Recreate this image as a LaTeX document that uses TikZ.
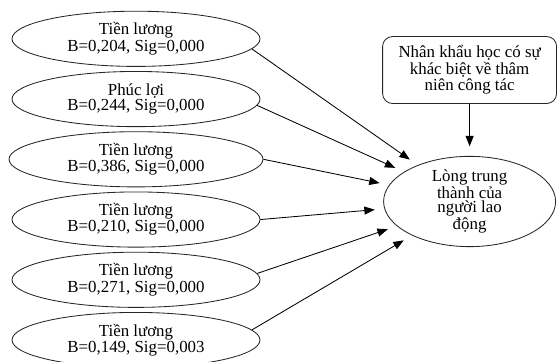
\documentclass[tikz,border=0pt]{standalone}
\usepackage{fontspec}
\setmainfont{Liberation Serif}
\usepackage{tikz}
\usetikzlibrary{shapes.geometric, arrows.meta, positioning}

\begin{document}
\begin{tikzpicture}[
    factor/.style={
      ellipse, draw=black!85, line width=0.6pt,
      minimum width=6.2cm, minimum height=1.38cm, inner sep=0pt,
      font=\fontsize{12}{9.5}\selectfont, align=center
    },
    outcome/.style={
      ellipse, draw=black!85, line width=0.6pt,
      minimum width=4.3cm, minimum height=2.075cm, inner sep=0pt,
      font=\fontsize{12}{10.6}\selectfont, align=center
    },
    control/.style={
      rectangle, draw=black!85, line width=0.6pt, rounded corners=2.5mm,
      minimum width=4.35cm, minimum height=1.675cm, inner sep=2pt,
      font=\fontsize{12}{11.6}\selectfont, align=center
    },
    rel/.style={-{Triangle[length=2.6mm, width=2mm]}, line width=0.6pt,
      shorten >=2.4mm},
  ]

  \useasboundingbox (0,0) rectangle (13.925,-9.025);

  \node[factor] (luong1) at (3.4,-0.97) {Tiền lương\\B=0,204, Sig=0,000};
  \node[factor, below=0.105cm of luong1] (phucloi) {Phúc lợi\\B=0,244, Sig=0,000};
  \node[factor, below=0.105cm of phucloi, minimum width=6.35cm] (luong3) {Tiền lương\\B=0,386, Sig=0,000};
  \node[factor, below=0.105cm of luong3] (luong4) {Tiền lương\\B=0,210, Sig=0,000};
  \node[factor, below=0.105cm of luong4] (luong5) {Tiền lương\\B=0,271, Sig=0,000};
  \node[factor, below=0.105cm of luong5] (luong6) {Tiền lương\\B=0,149, Sig=0,003};

  \node[control] (nhankhau) at (11.74,-1.75) {Nhân khẩu học có sự\\khác biệt về thâm\\niên công tác};
  \node[outcome, below=1.3cm of nhankhau] (longtrung) {Lòng trung\\thành của\\người lao\\động};

  \draw[rel] (luong1.-5) -- (longtrung);
  \draw[rel] (phucloi.-3) -- (longtrung);
  \draw[rel] (luong3.east) -- (longtrung);
  \draw[rel] (luong4.east) -- (longtrung);
  \draw[rel] (luong5.3) -- (longtrung);
  \draw[rel] (luong6.5) -- (longtrung);
  \draw[rel] (nhankhau) -- (longtrung);
\end{tikzpicture}
\end{document}
